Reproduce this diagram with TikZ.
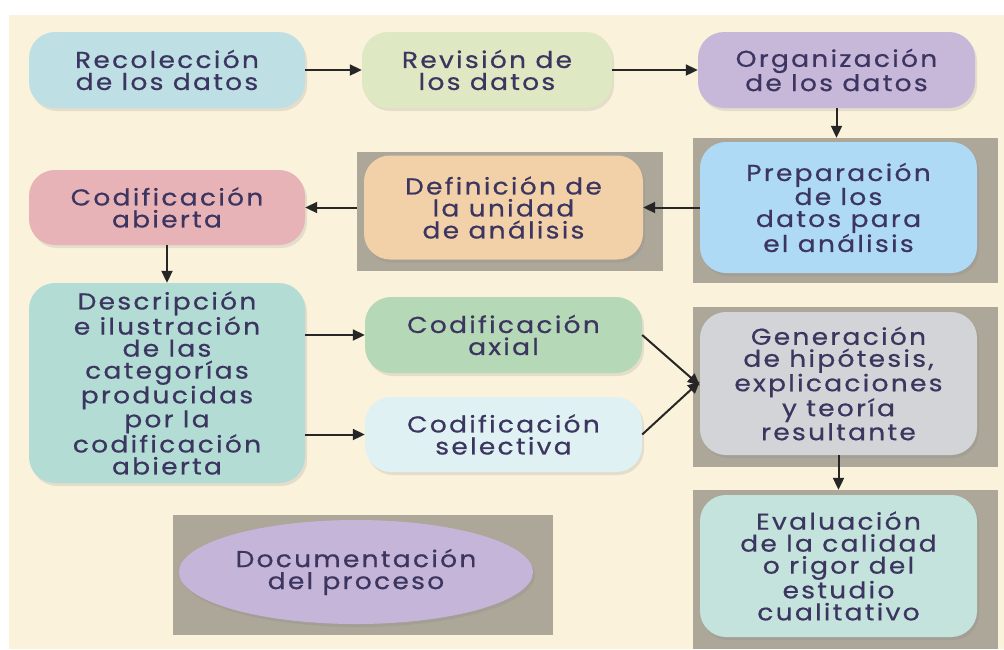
\documentclass[tikz,border=0pt]{standalone}
\usepackage{fontspec}
\setmainfont{Poppins}[LetterSpace=10,FakeStretch=1.15,FakeBold=0.6]
\usetikzlibrary{arrows.meta,shapes.geometric,shadows}
\definecolor{cream}{HTML}{FBF2DC}
\definecolor{greyframe}{HTML}{ADA799}
\definecolor{txt}{HTML}{3B3560}
\definecolor{cRec}{HTML}{BEE0E5}
\definecolor{cRev}{HTML}{DEE8C2}
\definecolor{cOrg}{HTML}{C7B8DA}
\definecolor{cPrep}{HTML}{AFDAF5}
\definecolor{cDef}{HTML}{F2D1A9}
\definecolor{cCab}{HTML}{E8B3B7}
\definecolor{cDesc}{HTML}{B3DCD5}
\definecolor{cAx}{HTML}{B5D8B7}
\definecolor{cSel}{HTML}{E0F1F4}
\definecolor{cGen}{HTML}{D3D4D8}
\definecolor{cEval}{HTML}{C5E3DD}
\definecolor{cDoc}{HTML}{C5B5D8}
\tikzset{
  box/.style={rounded corners=26pt, align=center, text=txt, inner sep=0pt,
    font=\fontsize{23}{22}\selectfont,
    drop shadow={opacity=0.18, shadow xshift=2pt, shadow yshift=-3pt}},
  frame/.style={fill=greyframe, draw=none, inner sep=0pt},
  arr/.style={-{Triangle[length=12pt,width=11pt]}, line width=2pt, black!85}
}
\begin{document}
\begin{tikzpicture}[x=1pt,y=-1pt]
\useasboundingbox (0,0) rectangle (1004,649);
\fill[white] (0,0) rectangle (1004,649);
\fill[cream] (9,15) rectangle (1004,649);
% grey frames
\node[frame, minimum width=305pt, minimum height=145pt] (prepG) at (845.5,210.5) {};
\node[frame, minimum width=306pt, minimum height=119pt] (defG) at (510,211.5) {};
\node[frame, minimum width=305pt, minimum height=160pt] (genG) at (845.5,387) {};
\node[frame, minimum width=305pt, minimum height=159pt] (evalG) at (845.5,569.5) {};
\node[frame, minimum width=380pt, minimum height=120pt] (docG) at (363,575) {};
% boxes
\node[box, fill=cRec, minimum width=276pt, minimum height=76pt] (rec) at (167,70) {Recolección\\de los datos};
\node[box, fill=cRev, minimum width=250pt, minimum height=76pt] (rev) at (487,70) {Revisión de\\los datos};
\node[box, fill=cOrg, minimum width=277pt, minimum height=76pt] (org) at (836.5,70) {Organización\\de los datos};
\node[box, fill=cPrep, minimum width=277pt, minimum height=131pt] (prep) at (838.5,207.5) {Preparación\\de los\\datos para\\el análisis};
\node[box, fill=cDef, minimum width=279pt, minimum height=104pt] (def) at (503.5,207.5) {Definición de\\la unidad\\de análisis};
\node[box, fill=cCab, minimum width=276pt, minimum height=75pt] (cab) at (167,207.5) {Codificación\\abierta};
\node[box, fill=cDesc, minimum width=276pt, minimum height=200pt] (desc) at (167,383) {Descripción\\e ilustración\\de las\\categorías\\producidas\\por la\\codificación\\abierta};
\node[box, fill=cAx, minimum width=277pt, minimum height=76pt] (ax) at (503.5,335) {Codificación\\axial};
\node[box, fill=cSel, minimum width=277pt, minimum height=75pt] (sel) at (503.5,434.5) {Codificación\\selectiva};
\node[box, fill=cGen, minimum width=277pt, minimum height=143pt] (gen) at (838.5,383.5) {Generación\\de hipótesis,\\explicaciones\\y teoría\\resultante};
\node[box, fill=cEval, minimum width=277pt, minimum height=142pt] (eval) at (838.5,566) {Evaluación\\de la calidad\\o rigor del\\estudio\\cualitativo};
\node[box, ellipse, fill=cDoc, drop shadow={opacity=0}, minimum width=354pt, minimum height=104pt] (doc) at (356,572) {Documentación\\del proceso};
% arrows
\draw[arr] (rec.east) -- (rev.west);
\draw[arr] (rev.east) -- (org.west);
\draw[arr] (org.south) -- (org.south |- prepG.north);
\draw[arr] (prep.west) -- (def.east);
\draw[arr] (defG.west |- cab.east) -- (cab.east);
\draw[arr] (cab.south) -- (desc.north);
\draw[arr] (desc.east |- ax.west) -- (ax.west);
\draw[arr] (desc.east |- sel.west) -- (sel.west);
\draw[arr] (ax.east) -- ([yshift=-2pt]gen.west);
\draw[arr] (sel.east) -- ([yshift=2pt]gen.west);
\draw[arr] (gen.south) -- (gen.south |- evalG.north);
\end{tikzpicture}
\end{document}
